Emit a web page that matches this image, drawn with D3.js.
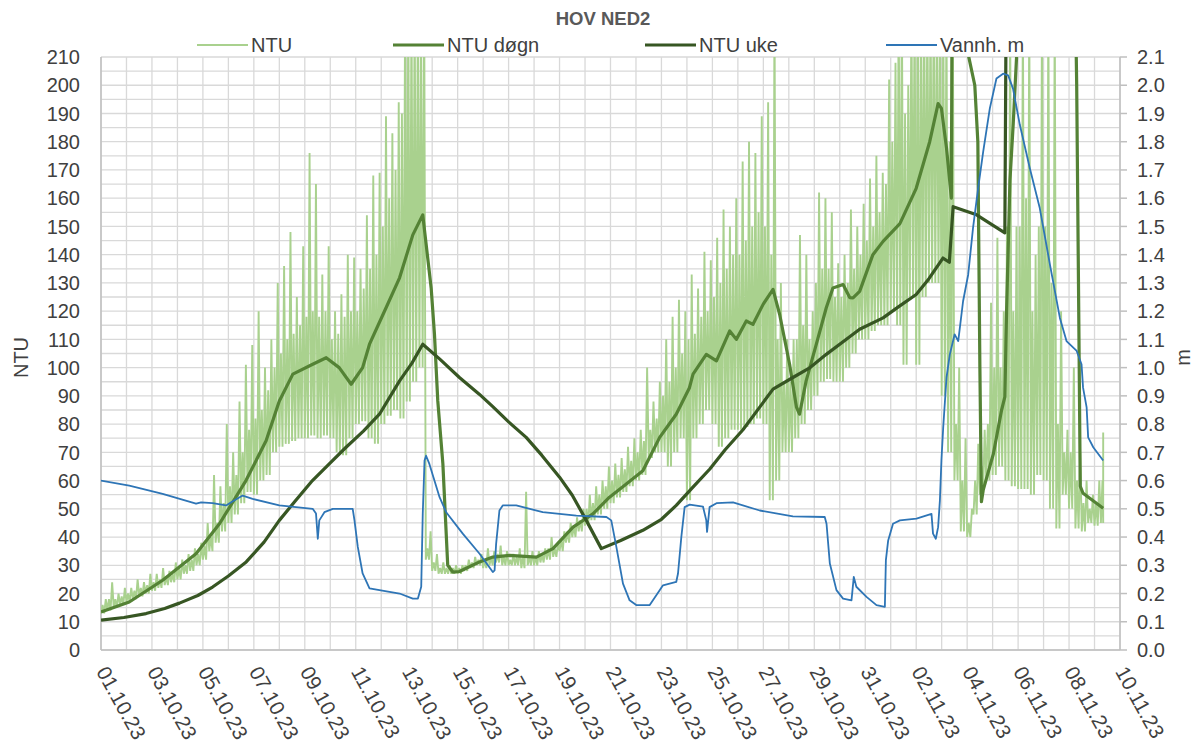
<!DOCTYPE html>
<html><head><meta charset="utf-8">
<script src="https://cdnjs.cloudflare.com/ajax/libs/d3/7.8.5/d3.min.js"></script>
<style>body{margin:0;background:#fff}text{font-family:"Liberation Sans",Arial,sans-serif}</style>
</head><body><svg id="c" width="1200" height="751"></svg>
<script>
// ---------------- data ----------------
const chartTitle = "HOV NED2";
const seriesNames = ["NTU", "NTU døgn", "NTU uke", "Vannh. m"];
const xTickLabels = ["01.10.23","03.10.23","05.10.23","07.10.23","09.10.23","11.10.23","13.10.23","15.10.23","17.10.23","19.10.23","21.10.23","23.10.23","25.10.23","27.10.23","29.10.23","31.10.23","02.11.23","04.11.23","06.11.23","08.11.23","10.11.23"];
const yLeftTicks = [0,10,20,30,40,50,60,70,80,90,100,110,120,130,140,150,160,170,180,190,200,210];
const yRightTicks = [0,0.1,0.2,0.3,0.4,0.5,0.6,0.7,0.8,0.9,1.0,1.1,1.2,1.3,1.4,1.5,1.6,1.7,1.8,1.9,2.0,2.1];

// NTU raw, read per quarter day from 01.10 00:00:
// low edge, upper edge of the dense band, and spike tops
const ntuStepDays = 0.25;
const ntuLow = [
 13,14,15,16, 17,18,19,20, 21,22,23,24, 25,27,28,30, 32,35,38,42,
 45,48,52,56, 55,60,62,70, 72,73,74,75, 75,76,75,76, 75,70,69,75,
 80,81,75,73, 80,83,85,82, 88,95,100,32, 28,27,27,27, 27,28,29,30,
 29,30,31,30, 30,30,29,30, 30,31,32,33, 35,38,40,42, 44,46,48,50,
 52,54,56,58, 60,62,68,70, 70,65,70,75, 53,75,80,85, 80,72,75,78,
 78,79,80,82, 80,53,60,70, 70,75,80,85, 90,95,96,95, 95,100,105,110,
 110,113,115,115, 120,115,101,125, 101,125,130,130, 90,70,60,42, 40,48,55,60,
 62,65,60,58, 57,57,55,62, 60,50,43,55, 50,43,42,45, 44,45];
const ntuDense = [
 16,18,18,19, 20,21,22,23, 24,25,26,27, 29,30,32,34, 37,40,45,52,
 58,62,70,78, 82,85,92,100, 105,110,112,115, 118,120,118,120, 110,112,118,120,
 120,128,135,140, 150,160,170,190, 230,230,230,36, 31,29,29,29, 29,30,31,32,
 32,33,34,33, 32,33,33,33, 33,34,36,36, 39,42,44,46, 50,52,55,58,
 60,62,64,67, 70,74,78,82, 90,95,100,105, 110,112,118,120, 125,130,135,140,
 140,145,150,155, 150,140,110,95, 95,110,115,110, 130,135,135,125, 125,130,135,140,
 145,150,155,165, 180,230,190,230, 230,230,230,230, 230,180,80,60, 45,60,65,80,
 100,100,150,120, 150,160,120,150, 150,130,80,70, 70,60,52,50, 52,60];
const ntuHigh = [
 18,24,20,22, 22,25,24,27, 27,29,28,31, 32,34,36,38, 45,62,58,80,
 70,88,101,108, 120,100,110,130, 136,148,125,143, 176,165,133,143, 120,126,140,139,
 135,154,168,169, 189,183,194,230, 230,230,230,42, 34,31,30,30, 30,32,33,34,
 36,35,37,35, 34,36,56,35, 35,36,40,38, 42,45,47,50, 55,58,60,65,
 66,68,72,75, 78,100,88,95, 110,118,124,120, 133,128,141,138, 146,156,150,160,
 173,180,176,189, 194,230,130,110, 110,147,140,120, 162,160,155,137, 140,156,150,158,
 167,175,169,202, 208,230,200,230, 230,230,230,230, 230,230,100,75, 50,73,78,123,
 146,120,230,150, 230,230,140,230, 230,230,120,78, 100,70,60,55, 60,77];

// NTU døgn (day offset, NTU)
const dognDays = [0,1.11,2.42,3.73,4.65,5.69,6.48,7.0,7.53,8.31,8.84,9.35,9.82,10.27,10.54,11.19,11.72,12.24,12.63,12.75,12.96,13.09,13.22,13.42,13.61,13.81,14.07,14.86,15.38,16.04,17.09,17.74,18.53,19.31,19.96,20.62,21.27,21.93,22.58,23.1,23.24,23.76,24.16,24.68,24.94,25.33,25.59,25.99,26.38,26.64,27.03,27.3,27.42,27.68,28.08,28.47,28.73,29.13,29.39,29.52,29.78,30.3,30.7,31.36,32.0,32.53,32.86,32.99,33.19,33.38,33.42,33.99,34.04,34.3,34.42,34.5,34.56,34.63,35.03,35.35,35.48,35.55,35.68,35.81,35.94,36.0,38.2,38.3,38.38,38.44,38.55,39.34];
const dognValues = [13.5,17,24.7,34.1,44.7,60,74.1,88.2,97.7,101.2,103.5,100,94.1,100,108.3,121.2,131.8,147,154.1,144.7,128.2,111.8,88.2,65.9,30,27.6,27.8,31.2,32.9,33.5,32.9,35.9,43.5,48.2,54.1,58.8,63.5,75.3,83.5,92.9,97.7,104.7,102.4,113,110,116.5,115.3,122.4,127.7,118.8,101.2,86,83.5,95.3,108.3,121.2,128.2,129.4,124.8,124.7,127,140,144.7,151,163.5,180,193.5,191.8,177.7,160,260,260,211,200,180,100,52.5,56.6,69.5,84.9,89.6,121,166.3,186.6,210,260,260,200,120,58,55.5,50.2];

// NTU uke (day offset, NTU)
const ukeDays = [0,0.9,1.77,2.5,3.08,3.8,4.38,5.0,5.7,6.4,7.0,7.6,8.3,9.0,9.62,10.3,10.93,11.72,12.2,12.63,13.3,14.07,14.86,15.38,16.0,16.69,17.3,18.0,18.5,19.05,19.64,20.4,21.27,22.0,22.58,23.2,23.9,24.5,25.2,25.8,26.38,27.16,27.8,28.47,29.39,29.78,30.7,31.3,32.0,32.5,33.05,33.3,33.45,34.37,35.48,35.55,39.34];
const ukeValues = [10.6,11.5,12.9,14.7,16.6,19.3,22.3,26.2,31.2,38.2,45.9,52.5,60,66.3,71.8,77.5,83.5,95.3,101.5,108.3,103,96.5,90.5,86.2,80.8,75.3,69,61.2,54.8,45.9,35.9,38.8,42.4,46.3,51.2,57.3,64.1,70.9,78,85.3,92.4,96.5,99.8,104.7,110.9,113.6,117.6,121.5,125.9,131.5,138.8,137.3,157,154.1,147.7,260,260];

// Vannh. m (day offset, metres)
const vannDays = [0,1.11,2.42,3.73,3.93,4.38,4.91,5.11,5.56,5.95,7.0,8.31,8.44,8.51,8.57,8.77,9.1,9.88,9.95,10.08,10.27,10.54,10.93,11.72,12.24,12.44,12.57,12.63,12.7,12.76,12.89,13.29,13.55,14.2,14.86,15.38,15.45,15.51,15.64,15.77,16.3,17.34,18.66,19.84,20.03,20.23,20.49,20.75,21.01,21.54,21.93,22.06,22.58,22.65,22.78,22.91,23.11,23.63,23.76,23.79,23.89,24.16,24.81,25.86,27.16,28.41,28.48,28.61,28.87,29.13,29.46,29.55,29.65,30.05,30.44,30.77,30.81,30.9,31.09,31.36,32.01,32.6,32.66,32.77,32.86,32.93,32.99,33.06,33.19,33.32,33.51,33.65,33.84,34.04,34.23,34.43,34.63,34.89,35.15,35.41,35.61,35.8,36.07,36.46,36.85,37.25,37.64,37.9,38.3,38.49,38.55,38.69,38.75,38.95,39.34];
const vannValues = [0.600,0.582,0.553,0.518,0.523,0.52,0.512,0.523,0.547,0.535,0.512,0.5,0.483,0.394,0.459,0.488,0.5,0.5,0.459,0.365,0.271,0.218,0.212,0.2,0.182,0.182,0.224,0.482,0.671,0.688,0.659,0.541,0.488,0.412,0.341,0.276,0.282,0.376,0.494,0.512,0.512,0.488,0.476,0.471,0.459,0.365,0.235,0.176,0.159,0.159,0.212,0.229,0.241,0.271,0.4,0.506,0.515,0.508,0.459,0.418,0.506,0.52,0.523,0.494,0.473,0.471,0.447,0.306,0.212,0.182,0.176,0.259,0.224,0.188,0.159,0.153,0.318,0.388,0.447,0.459,0.465,0.482,0.412,0.394,0.435,0.529,0.671,0.788,0.965,1.047,1.118,1.094,1.235,1.329,1.494,1.635,1.765,1.918,2.024,2.041,2.035,1.988,1.859,1.706,1.565,1.365,1.176,1.094,1.059,1.012,0.929,0.859,0.753,0.718,0.671];

const colors = {ntu:"#a9d18e", dogn:"#548235", uke:"#375623", vann:"#2e75b6"};

// ---------------- layout ----------------
const L = 101, R = 1120, T = 57, B = 650;
const totalDays = 40;
const ntuEndDay = 39.34;

const svg = d3.select("#c");
const x = d3.scaleLinear().domain([0, totalDays]).range([L, R]);
const y = d3.scaleLinear().domain([0, 210]).range([B, T]);
const y2 = d3.scaleLinear().domain([0, 2.1]).range([B, T]);

svg.append("defs").append("clipPath").attr("id","plotclip")
  .append("rect").attr("x",L).attr("y",T).attr("width",R-L).attr("height",B-T);

// gridlines
const g = svg.append("g");
g.selectAll("line.h").data(d3.range(0, 211, 5)).join("line")
  .attr("x1",L).attr("x2",R).attr("y1",d=>y(d)).attr("y2",d=>y(d))
  .attr("stroke","#d9d9d9").attr("stroke-width",1.3);
g.selectAll("line.v").data(d3.range(0, totalDays+1, 1)).join("line")
  .attr("y1",T).attr("y2",B).attr("x1",d=>x(d)).attr("x2",d=>x(d))
  .attr("stroke","#d9d9d9").attr("stroke-width",1.3);

// axis lines
svg.append("line").attr("x1",L).attr("x2",L).attr("y1",T).attr("y2",B).attr("stroke","#bfbfbf").attr("stroke-width",1.5);
svg.append("line").attr("x1",R).attr("x2",R).attr("y1",T).attr("y2",B).attr("stroke","#bfbfbf").attr("stroke-width",1.5);
svg.append("line").attr("x1",L).attr("x2",R).attr("y1",B).attr("y2",B).attr("stroke","#bfbfbf").attr("stroke-width",1.5);

// left axis labels
svg.append("g").selectAll("text").data(yLeftTicks).join("text")
  .attr("x", 80).attr("y", d=>y(d)).attr("dy","0.36em").attr("text-anchor","end")
  .attr("font-size",20).attr("fill","#404040").text(d=>d);
// right axis ticks + labels
svg.append("g").selectAll("line").data(yRightTicks).join("line")
  .attr("x1",R).attr("x2",R+7).attr("y1",d=>y2(d)).attr("y2",d=>y2(d))
  .attr("stroke","#bfbfbf").attr("stroke-width",1.5);
svg.append("g").selectAll("text").data(yRightTicks).join("text")
  .attr("x", 1137).attr("y", d=>y2(d)).attr("dy","0.36em").attr("text-anchor","start")
  .attr("font-size",20).attr("fill","#404040").text(d=>d3.format(".1f")(d));

// x labels
svg.append("g").selectAll("text").data(xTickLabels).join("text")
  .attr("transform",(d,i)=>`translate(${x(i*2)+1},${668}) rotate(61)`)
  .attr("dy","0.35em").attr("text-anchor","start")
  .attr("font-size",20.5).attr("fill","#404040").text(d=>d);

// axis titles
svg.append("text").attr("transform",`translate(28,${(T+B)/2+4}) rotate(-90)`)
  .attr("text-anchor","middle").attr("font-size",20).attr("fill","#404040").text("NTU");
svg.append("text").attr("transform",`translate(1190,${(T+B)/2+4}) rotate(-90)`)
  .attr("text-anchor","middle").attr("font-size",20).attr("fill","#404040").text("m");

// title
svg.append("text").attr("x",603).attr("y",25).attr("text-anchor","middle")
  .attr("font-size",18.5).attr("font-weight","bold").attr("fill","#595959").text(chartTitle);

// series
const plot = svg.append("g").attr("clip-path","url(#plotclip)");
// raw NTU: strokes between the low edge, the dense-band edge and the spike tops
const rawPts = [];
ntuLow.forEach((lo,i)=>{
  const t = i*ntuStepDays;
  const s = ntuStepDays/4;
  rawPts.push([t, lo]);
  rawPts.push([Math.min(t + s, ntuEndDay), ntuDense[i]]);
  rawPts.push([Math.min(t + 2*s, ntuEndDay), lo]);
  rawPts.push([Math.min(t + 3*s, ntuEndDay), ntuHigh[i]]);
});
const lineV = d3.line().x(d=>x(d[0])).y(d=>y(d[1]));
plot.append("path").attr("d", lineV(rawPts)).attr("fill","none")
  .attr("stroke",colors.ntu).attr("stroke-width",1.9).attr("stroke-linejoin","bevel");
plot.append("path").attr("d", lineV(dognDays.map((d,i)=>[d,dognValues[i]]))).attr("fill","none")
  .attr("stroke",colors.dogn).attr("stroke-width",3.2).attr("stroke-linejoin","round");
plot.append("path").attr("d", lineV(ukeDays.map((d,i)=>[d,ukeValues[i]]))).attr("fill","none")
  .attr("stroke",colors.uke).attr("stroke-width",3.2).attr("stroke-linejoin","round");
const lineM = d3.line().x(d=>x(d[0])).y(d=>y2(d[1]));
plot.append("path").attr("d", lineM(vannDays.map((d,i)=>[d,vannValues[i]]))).attr("fill","none")
  .attr("stroke",colors.vann).attr("stroke-width",1.8).attr("stroke-linejoin","round");

// legend
const legendX = [197, 393, 645, 886];
const legendW = [1.8, 3.2, 3.2, 1.8];
const legendC = [colors.ntu, colors.dogn, colors.uke, colors.vann];
const lg = svg.append("g");
seriesNames.forEach((n,i)=>{
  lg.append("line").attr("x1",legendX[i]).attr("x2",legendX[i]+51).attr("y1",45).attr("y2",45)
    .attr("stroke",legendC[i]).attr("stroke-width",legendW[i]);
  lg.append("text").attr("x",legendX[i]+54).attr("y",45).attr("dy","0.36em")
    .attr("font-size",20).attr("fill","#404040").text(n);
});
</script></body></html>
